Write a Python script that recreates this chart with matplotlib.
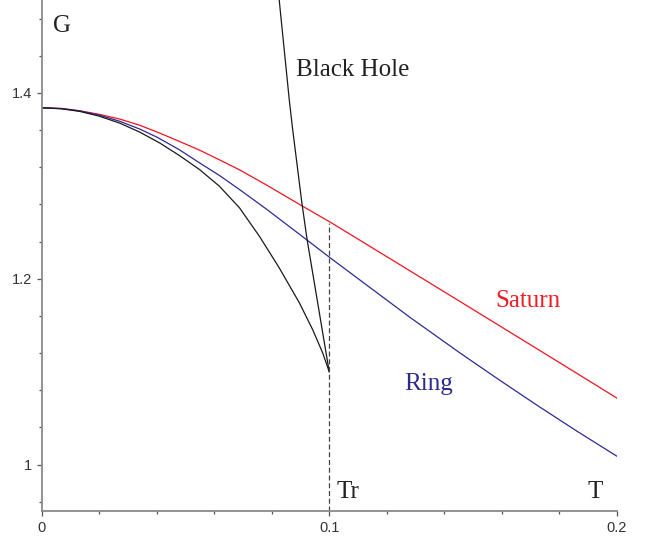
import matplotlib
matplotlib.use("Agg")
import matplotlib.pyplot as plt
from matplotlib.ticker import FixedLocator, MultipleLocator

# ---- data ----
T_saturn = [0.0, 0.0069, 0.0132, 0.0199, 0.0272, 0.0341, 0.041, 0.0479, 0.0549, 0.0618,
            0.0688, 0.078, 0.0899, 0.1009, 0.1228, 0.1455, 0.1727, 0.2]
G_saturn = [1.384, 1.3833, 1.3808, 1.377, 1.3718, 1.3652, 1.3568, 1.3478, 1.3384, 1.328,
            1.3172, 1.3012, 1.2796, 1.2599, 1.2185, 1.1755, 1.1238, 1.0717]

T_ring = [0.0, 0.0069, 0.0132, 0.0199, 0.0272, 0.0341, 0.0402, 0.0479, 0.0549, 0.0618,
          0.0688, 0.078, 0.0899, 0.1009, 0.1281, 0.1455, 0.1591, 0.1727, 0.1863, 0.2]
G_ring = [1.384, 1.3831, 1.3806, 1.3762, 1.3694, 1.3611, 1.3522, 1.3388, 1.3247, 1.3112,
          1.296, 1.2753, 1.2473, 1.2212, 1.1584, 1.1201, 1.0912, 1.063, 1.0357, 1.0091]

T_lower = [0.0, 0.0069, 0.0132, 0.0199, 0.0272, 0.0341, 0.041, 0.0479, 0.0549, 0.0618,
           0.0688, 0.0757, 0.0826, 0.0896, 0.0942, 0.0977, 0.1]
G_lower = [1.384, 1.3829, 1.3801, 1.3751, 1.3674, 1.3578, 1.3462, 1.3326, 1.3175, 1.2996,
           1.2763, 1.2458, 1.2118, 1.1742, 1.1455, 1.1204, 1.1]

T_bh = [0.1, 0.0923, 0.0905, 0.0873, 0.0861, 0.0826]
G_bh = [1.1, 1.2423, 1.2815, 1.3604, 1.3928, 1.5003]

T_r = 0.1
G_r_top = 1.2599

x_ticks = [0.0, 0.1, 0.2]
x_ticklabels = ["0", "0.1", "0.2"]
y_ticks = [1.0, 1.2, 1.4]
y_ticklabels = ["1", "1.2", "1.4"]

# ---- figure ----
fig = plt.figure(figsize=(6.59, 5.37), dpi=100)
ax = fig.add_axes([0.0633, 0.0484, 0.9358 - 0.0633, 0.9516])

ax.plot(T_saturn, G_saturn, color="#f0141e", lw=0.9)
ax.plot(T_ring, G_ring, color="#2a2a96", lw=0.9)
ax.plot(T_lower, G_lower, color="#1a1a1a", lw=0.9)
ax.plot(T_bh, G_bh, color="#1a1a1a", lw=0.9)
ax.plot([T_r, T_r], [0.95, G_r_top], color="#444444", lw=0.9, dashes=(4, 2.2))

ax.set_xlim(0, 0.2)
ax.set_ylim(0.95, 1.5)

for s in ["top", "right"]:
    ax.spines[s].set_visible(False)
for s in ["left", "bottom"]:
    ax.spines[s].set_color("#8a8a8a")
    ax.spines[s].set_linewidth(1.3)

ax.xaxis.set_major_locator(FixedLocator(x_ticks))
ax.set_xticklabels(x_ticklabels)
ax.yaxis.set_major_locator(FixedLocator(y_ticks))
ax.set_yticklabels(y_ticklabels)
ax.xaxis.set_minor_locator(MultipleLocator(0.02))
ax.yaxis.set_minor_locator(MultipleLocator(0.04))

ax.tick_params(which="major", length=3.5, width=0.9, color="#555555",
               labelsize=10.5, labelcolor="#333333", pad=3.5)
ax.tick_params(which="minor", length=2.2, width=0.9, color="#555555")
for lab in ax.get_xticklabels() + ax.get_yticklabels():
    lab.set_family(["Liberation Sans", "DejaVu Sans"])

serif = ["Liberation Serif", "DejaVu Serif"]
fs = 18
ax.text(0.0069, 1.4659, "G", family=serif, fontsize=fs, color="#222222",
        ha="center", va="baseline")
ax.text(0.1083, 1.4186, "Black Hole", family=serif, fontsize=fs, color="#222222",
        ha="center", va="baseline")
ax.text(0.1693, 1.1691, "Saturn", family=serif, fontsize=fs, color="#ee1c25",
        ha="center", va="baseline")
ax.text(0.1345, 1.080, "Ring", family=serif, fontsize=fs, color="#2b2b8c",
        ha="center", va="baseline")
ax.text(0.1066, 0.9638, "Tr", family=serif, fontsize=fs, color="#222222",
        ha="center", va="baseline")
ax.text(0.1924, 0.9638, "T", family=serif, fontsize=fs, color="#222222",
        ha="center", va="baseline")

fig.savefig("out.png", dpi=100)
